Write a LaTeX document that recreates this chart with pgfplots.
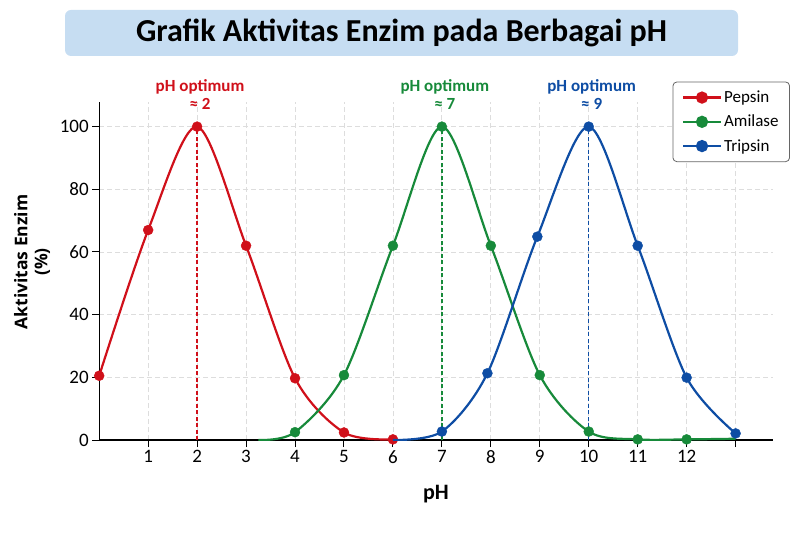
\documentclass[border=0pt]{standalone}
\usepackage{pgfplots}
\pgfplotsset{compat=1.18}
\usepackage{fontspec}
\setmainfont{Carlito}
\newfontfamily\opensans{Open Sans}
\definecolor{cpep}{HTML}{D0101A}
\definecolor{cami}{HTML}{178A3A}
\definecolor{ctri}{HTML}{0E4DA4}
\definecolor{tbox}{HTML}{C6DDF2}
\definecolor{cgrid}{HTML}{DDDDDD}
\newcommand{\lgf}{\fontsize{17}{17}\selectfont}
\begin{document}
\begin{tikzpicture}
\path[use as bounding box] (0pt,0pt) rectangle (800pt,533pt);
\fill[tbox, rounded corners=6pt] (65pt,477pt) rectangle (738pt,523pt);
\node[font=\fontsize{32}{32}\selectfont\bfseries] at (401.5pt,500pt) {Grafik Aktivitas Enzim pada Berbagai pH};
\node[rotate=90, align=center, font=\opensans\bfseries\fontsize{17.5}{20}\selectfont] at (32pt,271pt) {Aktivitas Enzim\\(\%)};
\begin{axis}[
  at={(99.2pt,93pt)}, anchor=south west,
  scale only axis, width=673.6pt, height=337.5pt,
  xmin=0, xmax=13.76, ymin=0, ymax=107.7,
  axis x line=bottom, axis y line=left,
  axis line style={-, line width=1.4pt, black},
  xtick={1,2,3,4,5,6,7,8,9,10,11,12,13},
  xticklabels={1,2,3,4,5,6,7,8,9,10,11,12,{}},
  ytick={0,20,40,60,80,100},
  grid=major,
  major grid style={cgrid, dashed, line width=0.8pt, dash pattern=on 5pt off 3pt},
  tick align=outside, major tick length=7pt,
  tick style={black, line width=1pt},
  ticklabel style={font=\fontsize{19}{19}\selectfont},
  /pgf/number format/assume math mode=true,
  xlabel={pH},
  xlabel style={font=\fontsize{22}{22}\selectfont\bfseries, at={(axis description cs:0.5,-0.16)}, anchor=center},
  clip mode=individual,
  legend image code/.code={\draw[mark repeat=2,mark phase=2] plot coordinates {(0pt,0pt)(19pt,0pt)(38pt,0pt)};},
  legend style={at={(1.0255,1.062)}, anchor=north east, draw=gray!80!black, line width=0.8pt, rounded corners=4pt, fill=white,
    row sep=7pt, inner xsep=9pt, inner ysep=7pt},
  legend cell align=left,
]
% peak markers
\addplot[forget plot, mark=none, cpep, line width=1.3pt, dash pattern=on 4pt off 2.5pt] coordinates {(2,0) (2,100)};
\addplot[forget plot, mark=none, cami, line width=1.3pt, dash pattern=on 4pt off 2.5pt] coordinates {(7,0) (7,100)};
\addplot[forget plot, mark=none, ctri, line width=1.3pt, dash pattern=on 4pt off 2.5pt] coordinates {(10,0) (10,100)};
% Pepsin
\addplot[forget plot, color=cpep, line width=2.2pt, smooth] coordinates {(0,20.5)(1,67)(2,100)(3,62)(4,19.7)(5,2.4)(6,0.2)};
\addplot[forget plot, color=cpep, only marks, mark=*, mark size=5pt] coordinates {(0,20.5)(1,67)(2,100)(3,62)(4,19.7)(5,2.4)(6,0.2)};
% Amilase
\addplot[forget plot, color=cami, line width=2.2pt, smooth] coordinates {(3.25,0)(4,2.5)(5,20.7)(6,62)(7,100)(8,62)(9,20.7)(10,2.7)(11,0.2)(12,0.2)(13,0.4)};
\addplot[forget plot, color=cami, only marks, mark=*, mark size=5pt] coordinates {(4,2.5)(5,20.7)(6,62)(7,100)(8,62)(9,20.7)(10,2.7)(11,0.2)(12,0.2)};
% Tripsin
\addplot[forget plot, color=ctri, line width=2.2pt, smooth] coordinates {(6,0)(7,2.7)(7.93,21.3)(8.95,64.9)(10,100)(11,62)(12,19.9)(13,2.1)};
\addplot[forget plot, color=ctri, only marks, mark=*, mark size=5pt] coordinates {(7,2.7)(7.93,21.3)(8.95,64.9)(10,100)(11,62)(12,19.9)(13,2.1)};
% legend
\addlegendimage{color=cpep, line width=2.2pt, mark=*, mark size=5pt}
\addlegendentry{\lgf Pepsin}
\addlegendimage{color=cami, line width=2.2pt, mark=*, mark size=5pt}
\addlegendentry{\lgf Amilase}
\addlegendimage{color=ctri, line width=2.2pt, mark=*, mark size=5pt}
\addlegendentry{\lgf Tripsin}
% annotations
\node[align=center, text=cpep, font=\fontsize{17}{18}\selectfont\bfseries] at (axis cs:2.06,110.4) {pH optimum\\≈ 2};
\node[align=center, text=cami, font=\fontsize{17}{18}\selectfont\bfseries] at (axis cs:7.06,110.4) {pH optimum\\≈ 7};
\node[align=center, text=ctri, font=\fontsize{17}{18}\selectfont\bfseries] at (axis cs:10.06,110.4) {pH optimum\\≈ 9};
\end{axis}
\end{tikzpicture}
\end{document}
